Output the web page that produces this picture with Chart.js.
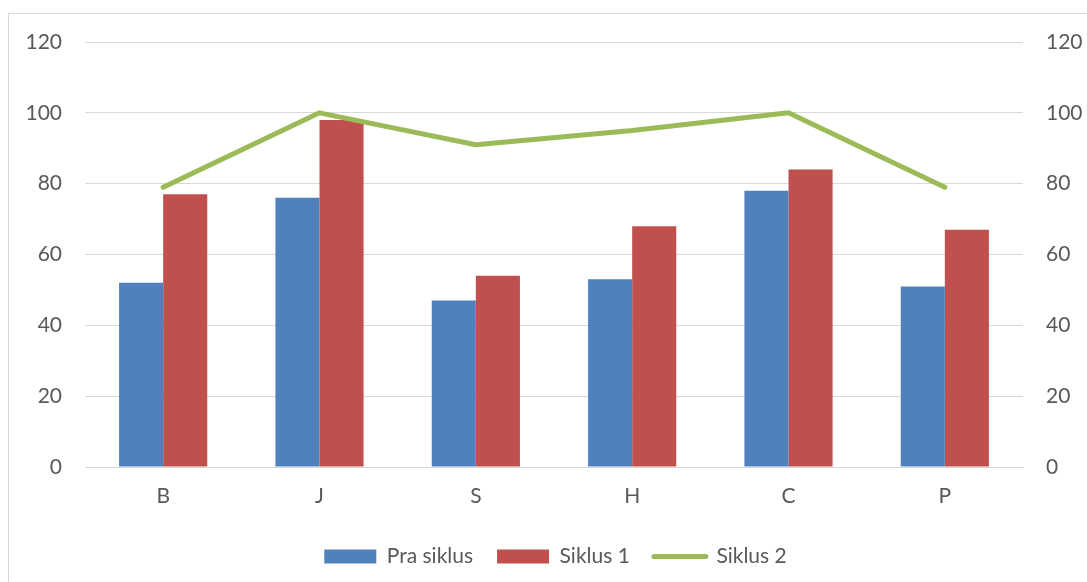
<!DOCTYPE html>
<html>
<head>
<meta charset="utf-8">
<script src="https://cdn.jsdelivr.net/npm/chart.js@4.4.0/dist/chart.umd.min.js"></script>
<style>
  html, body { margin: 0; padding: 0; background: #fff; overflow: hidden; }
  #frame { position: absolute; left: 8px; top: 13px; width: 1200px; height: 700px; border: 1px solid #d9d9d9; box-sizing: border-box; }
  #wrap { position: absolute; left: 0; top: 0; width: 1087px; height: 582px; }
</style>
</head>
<body>
<div id="frame"></div>
<div id="wrap"><canvas id="c" width="1087" height="582"></canvas></div>
<script>
const categories = ["B", "J", "S", "H", "C", "P"];
const praSiklus = [52, 76, 47, 53, 78, 51];
const siklus1 = [77, 98, 54, 68, 84, 67];
const siklus2 = [79, 100, 91, 95, 100, 79];
const seriesNames = ["Pra siklus", "Siklus 1", "Siklus 2"];
const yTicks = [0, 20, 40, 60, 80, 100, 120];

const FONT = "Lato, 'Open Sans', sans-serif";
const TXT = "#595959";
const FS = 21;

new Chart(document.getElementById('c'), {
  data: {
    labels: categories,
    datasets: [
      { type: 'bar', label: seriesNames[0], data: praSiklus, backgroundColor: '#4F81BD', yAxisID: 'y', order: 2,
        categoryPercentage: 0.564, barPercentage: 1.0, pointStyle: 'rect' },
      { type: 'bar', label: seriesNames[1], data: siklus1, backgroundColor: '#C0504D', yAxisID: 'y', order: 2,
        categoryPercentage: 0.564, barPercentage: 1.0, pointStyle: 'rect' },
      { type: 'line', label: seriesNames[2], data: siklus2, borderColor: '#9BBB59', backgroundColor: '#9BBB59',
        borderWidth: 5, pointRadius: 0, tension: 0, yAxisID: 'y2', order: 0,
        borderCapStyle: 'round', borderJoinStyle: 'round', pointStyle: 'line' }
    ]
  },
  options: {
    responsive: false,
    animation: false,
    layout: { padding: { top: 42, left: 24, right: 0, bottom: 5 } },
    plugins: {
      tooltip: { enabled: false },
      legend: {
        position: 'bottom',
        labels: {
          color: TXT,
          font: { family: FONT, size: FS },
          usePointStyle: true,
          pointStyleWidth: 52,
          boxHeight: 14,
          padding: 24,
          generateLabels(chart) {
            return chart.data.datasets.map((ds, i) => ({
              text: ds.label,
              fillStyle: ds.type === 'line' ? 'rgba(0,0,0,0)' : ds.backgroundColor,
              strokeStyle: ds.type === 'line' ? ds.borderColor : 'rgba(0,0,0,0)',
              lineWidth: ds.type === 'line' ? 5 : 0,
              lineCap: 'round',
              pointStyle: ds.pointStyle,
              fontColor: TXT,
              datasetIndex: i,
              hidden: false
            }));
          }
        }
      }
    },
    scales: {
      x: {
        grid: { display: false, drawTicks: false },
        border: { display: true, color: '#d9d9d9', width: 1 },
        ticks: { color: TXT, font: { family: FONT, size: FS }, padding: 17 },
        afterFit(s) { s.height = 55; }
      },
      y: {
        position: 'left',
        min: 0, max: 120,
        afterBuildTicks(s) { s.ticks = yTicks.map(v => ({ value: v })); },
        grid: { color: '#d9d9d9', lineWidth: 1, drawTicks: false },
        border: { display: false },
        ticks: { color: TXT, font: { family: FONT, size: FS }, padding: 23 },
        afterFit(s) { s.width = 61; }
      },
      y2: {
        position: 'right',
        min: 0, max: 120,
        afterBuildTicks(s) { s.ticks = yTicks.map(v => ({ value: v })); },
        grid: { display: false, drawTicks: false },
        border: { display: false },
        ticks: { color: TXT, font: { family: FONT, size: FS }, padding: 23 },
        afterFit(s) { s.width = 64; }
      }
    }
  }
});
</script>
</body>
</html>
